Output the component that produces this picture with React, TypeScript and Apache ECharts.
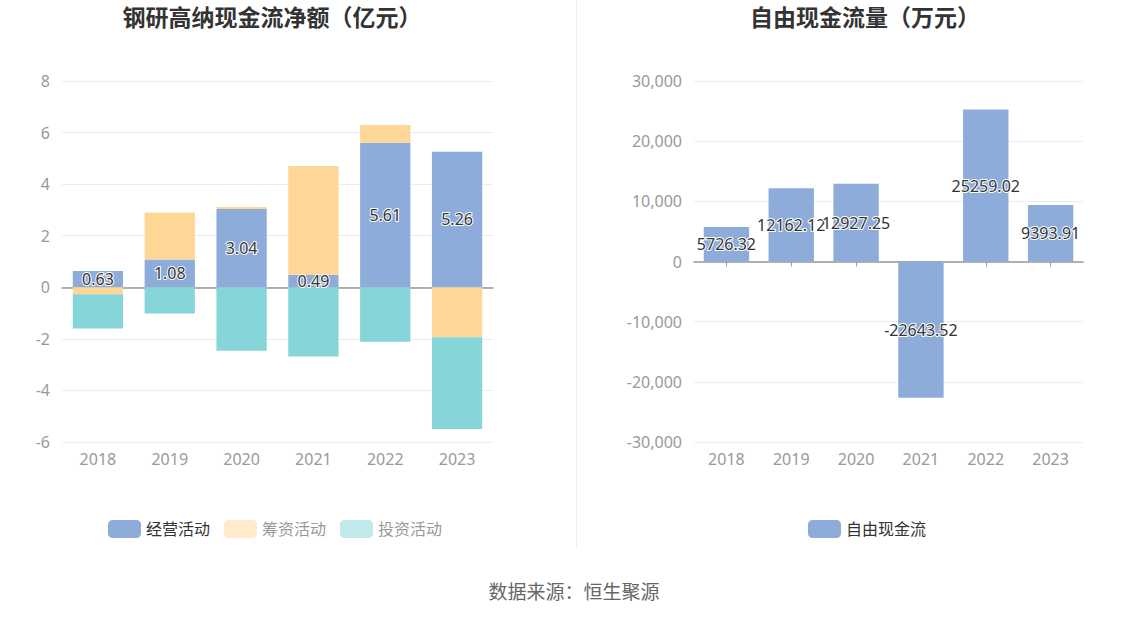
import React, { useEffect, useRef } from "react";
import * as echarts from "echarts";

const years = ["2018", "2019", "2020", "2021", "2022", "2023"];
const operating = [0.63, 1.08, 3.04, 0.49, 5.61, 5.26];
const financing = [-0.27, 1.82, 0.07, 4.21, 0.68, -1.94];
const investing = [-1.33, -1.02, -2.46, -2.68, -2.11, -3.56];
const freeCashFlow = [5726.32, 12162.12, 12927.25, -22643.52, 25259.02, 9393.91];

const FONT = '"Noto Sans", "Noto Sans CJK SC", sans-serif';
const C_OP = "#8eacda";
const C_FIN = "#fed796";
const C_INV = "#86d5d8";

export default function App() {
  const ref = useRef<HTMLDivElement>(null);
  useEffect(() => {
    document.body.style.margin = "0";
    const chart = echarts.init(ref.current!, null, { renderer: "svg" });
    const labelStyle = {
      show: true,
      position: "inside" as const,
      color: "#333",
      fontSize: 16,
      fontFamily: FONT,
      textBorderColor: "#fff",
      textBorderWidth: 2,
    };
    const axisLabel = { color: "#999", fontSize: 16, fontFamily: FONT, margin: 9 };
    const splitLine = { show: true, lineStyle: { color: "#e9edf6", width: 1 } };
    chart.setOption({
      animation: false,
      textStyle: { fontFamily: FONT },
      grid: [
        { left: 62, right: 1148 - 493, top: 81, bottom: 619 - 442, containLabel: false },
        { left: 694, right: 1148 - 1083, top: 81, bottom: 619 - 442, containLabel: false },
      ],
      legend: [
        {
          left: 103,
          top: 515,
          itemWidth: 33,
          itemHeight: 18,
          itemGap: 14,
          icon: "roundRect",
          selectedMode: false,
          textStyle: { fontSize: 16, color: "#333", fontFamily: FONT },
          data: [
            { name: "经营活动" },
            { name: "筹资活动", itemStyle: { color: "#ffebcb" }, textStyle: { color: "#999" } },
            { name: "投资活动", itemStyle: { color: "#c2eaec" }, textStyle: { color: "#999" } },
          ],
        },
        {
          left: 803,
          top: 515,
          itemWidth: 33,
          itemHeight: 18,
          icon: "roundRect",
          selectedMode: false,
          textStyle: { fontSize: 16, color: "#333", fontFamily: FONT },
          data: [{ name: "自由现金流" }],
        },
      ],
      xAxis: [
        {
          type: "category",
          gridIndex: 0,
          data: years,
          position: "bottom",
          axisLine: { show: false, onZero: false },
          axisTick: { show: false },
          axisLabel,
        },
        {
          type: "category",
          gridIndex: 0,
          data: years,
          position: "bottom",
          axisLine: { show: true, onZero: true, lineStyle: { color: "#999", width: 1.5 } },
          axisTick: { show: false },
          axisLabel: { show: false },
        },
        {
          type: "category",
          gridIndex: 1,
          data: years,
          position: "bottom",
          axisLine: { show: false, onZero: false },
          axisTick: { show: false },
          axisLabel,
        },
        {
          type: "category",
          gridIndex: 1,
          data: years,
          position: "bottom",
          axisLine: { show: true, onZero: true, lineStyle: { color: "#999", width: 1.5 } },
          axisTick: { show: true, alignWithLabel: true, length: 5, lineStyle: { color: "#999" } },
          axisLabel: { show: false },
        },
      ],
      yAxis: [
        {
          type: "value",
          gridIndex: 0,
          min: -6,
          max: 8,
          interval: 2,
          axisLine: { show: false },
          axisTick: { show: false },
          axisLabel: { ...axisLabel, margin: 12 },
          splitLine,
        },
        {
          type: "value",
          gridIndex: 1,
          min: -30000,
          max: 30000,
          interval: 10000,
          axisLine: { show: false },
          axisTick: { show: false },
          axisLabel: { ...axisLabel, margin: 12 },
          splitLine,
        },
      ],
      series: [
        {
          name: "经营活动",
          type: "bar",
          xAxisIndex: 0,
          yAxisIndex: 0,
          stack: "cash",
          barWidth: "70%",
          data: operating,
          itemStyle: { color: C_OP },
          label: labelStyle,
        },
        {
          name: "筹资活动",
          type: "bar",
          xAxisIndex: 0,
          yAxisIndex: 0,
          stack: "cash",
          barWidth: "70%",
          data: financing,
          itemStyle: { color: C_FIN },
        },
        {
          name: "投资活动",
          type: "bar",
          xAxisIndex: 0,
          yAxisIndex: 0,
          stack: "cash",
          barWidth: "70%",
          data: investing,
          itemStyle: { color: C_INV },
        },
        {
          name: "自由现金流",
          type: "bar",
          xAxisIndex: 2,
          yAxisIndex: 1,
          barWidth: "70%",
          data: freeCashFlow,
          itemStyle: { color: C_OP },
          label: labelStyle,
        },
      ],
      graphic: [
        {
          type: "text",
          x: 272,
          y: 17,
          style: {
            text: "钢研高纳现金流净额（亿元）",
            align: "center",
            verticalAlign: "middle",
            fontSize: 23,
            fontWeight: "bold",
            fontFamily: FONT,
            fill: "#333",
          },
        },
        {
          type: "text",
          x: 865,
          y: 17,
          style: {
            text: "自由现金流量（万元）",
            align: "center",
            verticalAlign: "middle",
            fontSize: 23,
            fontWeight: "bold",
            fontFamily: FONT,
            fill: "#333",
          },
        },
        {
          type: "line",
          shape: { x1: 576.5, y1: 0, x2: 576.5, y2: 549 },
          style: { stroke: "#eeeeee", lineWidth: 1 },
        },
        {
          type: "text",
          x: 574,
          y: 592,
          style: {
            text: "数据来源：恒生聚源",
            align: "center",
            verticalAlign: "middle",
            fontSize: 19,
            fontFamily: FONT,
            fill: "#666",
          },
        },
      ],
    });
    return () => chart.dispose();
  }, []);
  return <div ref={ref} style={{ width: 1148, height: 619 }} />;
}
